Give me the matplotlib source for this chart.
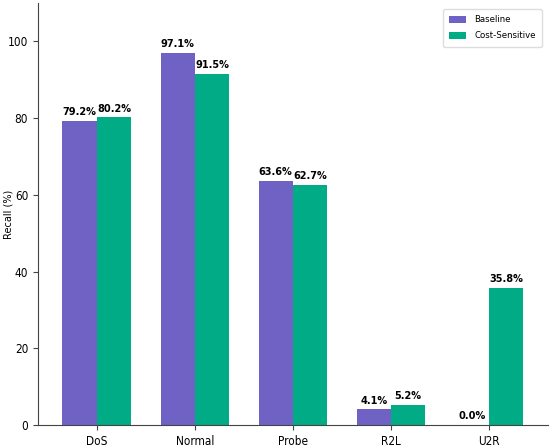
import matplotlib
matplotlib.use("Agg")
import matplotlib.pyplot as plt
import numpy as np

categories = ["DoS", "Normal", "Probe", "R2L", "U2R"]
baseline = [79.2, 97.1, 63.6, 4.1, 0.0]
cost_sensitive = [80.2, 91.5, 62.7, 5.2, 35.8]
series_names = ["Baseline", "Cost-Sensitive"]

plt.rcParams['font.family'] = ['DejaVu Sans']
plt.rcParams['font.stretch'] = 'condensed'

fig = plt.figure(figsize=(5.5, 4.47), dpi=100)
ax = fig.add_axes([0.069, 0.049, 0.927, 0.944])

x = np.arange(len(categories))
w = 0.35
c1, c2 = "#6f62c4", "#00ab85"
b1 = ax.bar(x - w/2, baseline, w, color=c1, label=series_names[0])
b2 = ax.bar(x + w/2, cost_sensitive, w, color=c2, label=series_names[1])

for bars, vals in ((b1, baseline), (b2, cost_sensitive)):
    for r, v in zip(bars, vals):
        ax.text(r.get_x() + r.get_width()/2, v + 1.0, f"{v:.1f}%",
                ha="center", va="bottom", fontsize=7.8, fontweight="bold",
                fontstretch="condensed")

ax.set_xticks(x)
ax.set_xticklabels(categories, fontsize=8.5)
ax.set_yticks([0, 20, 40, 60, 80, 100])
ax.tick_params(axis='both', labelsize=8.5, length=3.5, color="#444444")
ax.set_ylim(0, 110)
ax.set_xlim(-0.6, 4.6)
ax.set_ylabel("Recall (%)", fontsize=7, fontstretch="normal")
ax.yaxis.set_label_coords(-0.047, 0.5)
for s in ("top", "right"):
    ax.spines[s].set_visible(False)
for s in ("left", "bottom"):
    ax.spines[s].set_color("#444444")
ax.legend(loc="upper right", fontsize=6.8, framealpha=1, edgecolor="#dddddd",
          handlelength=1.8, handleheight=0.8, labelspacing=0.75,
          borderpad=0.7, handletextpad=0.8, borderaxespad=0.6)

fig.savefig("out.png", dpi=100)
